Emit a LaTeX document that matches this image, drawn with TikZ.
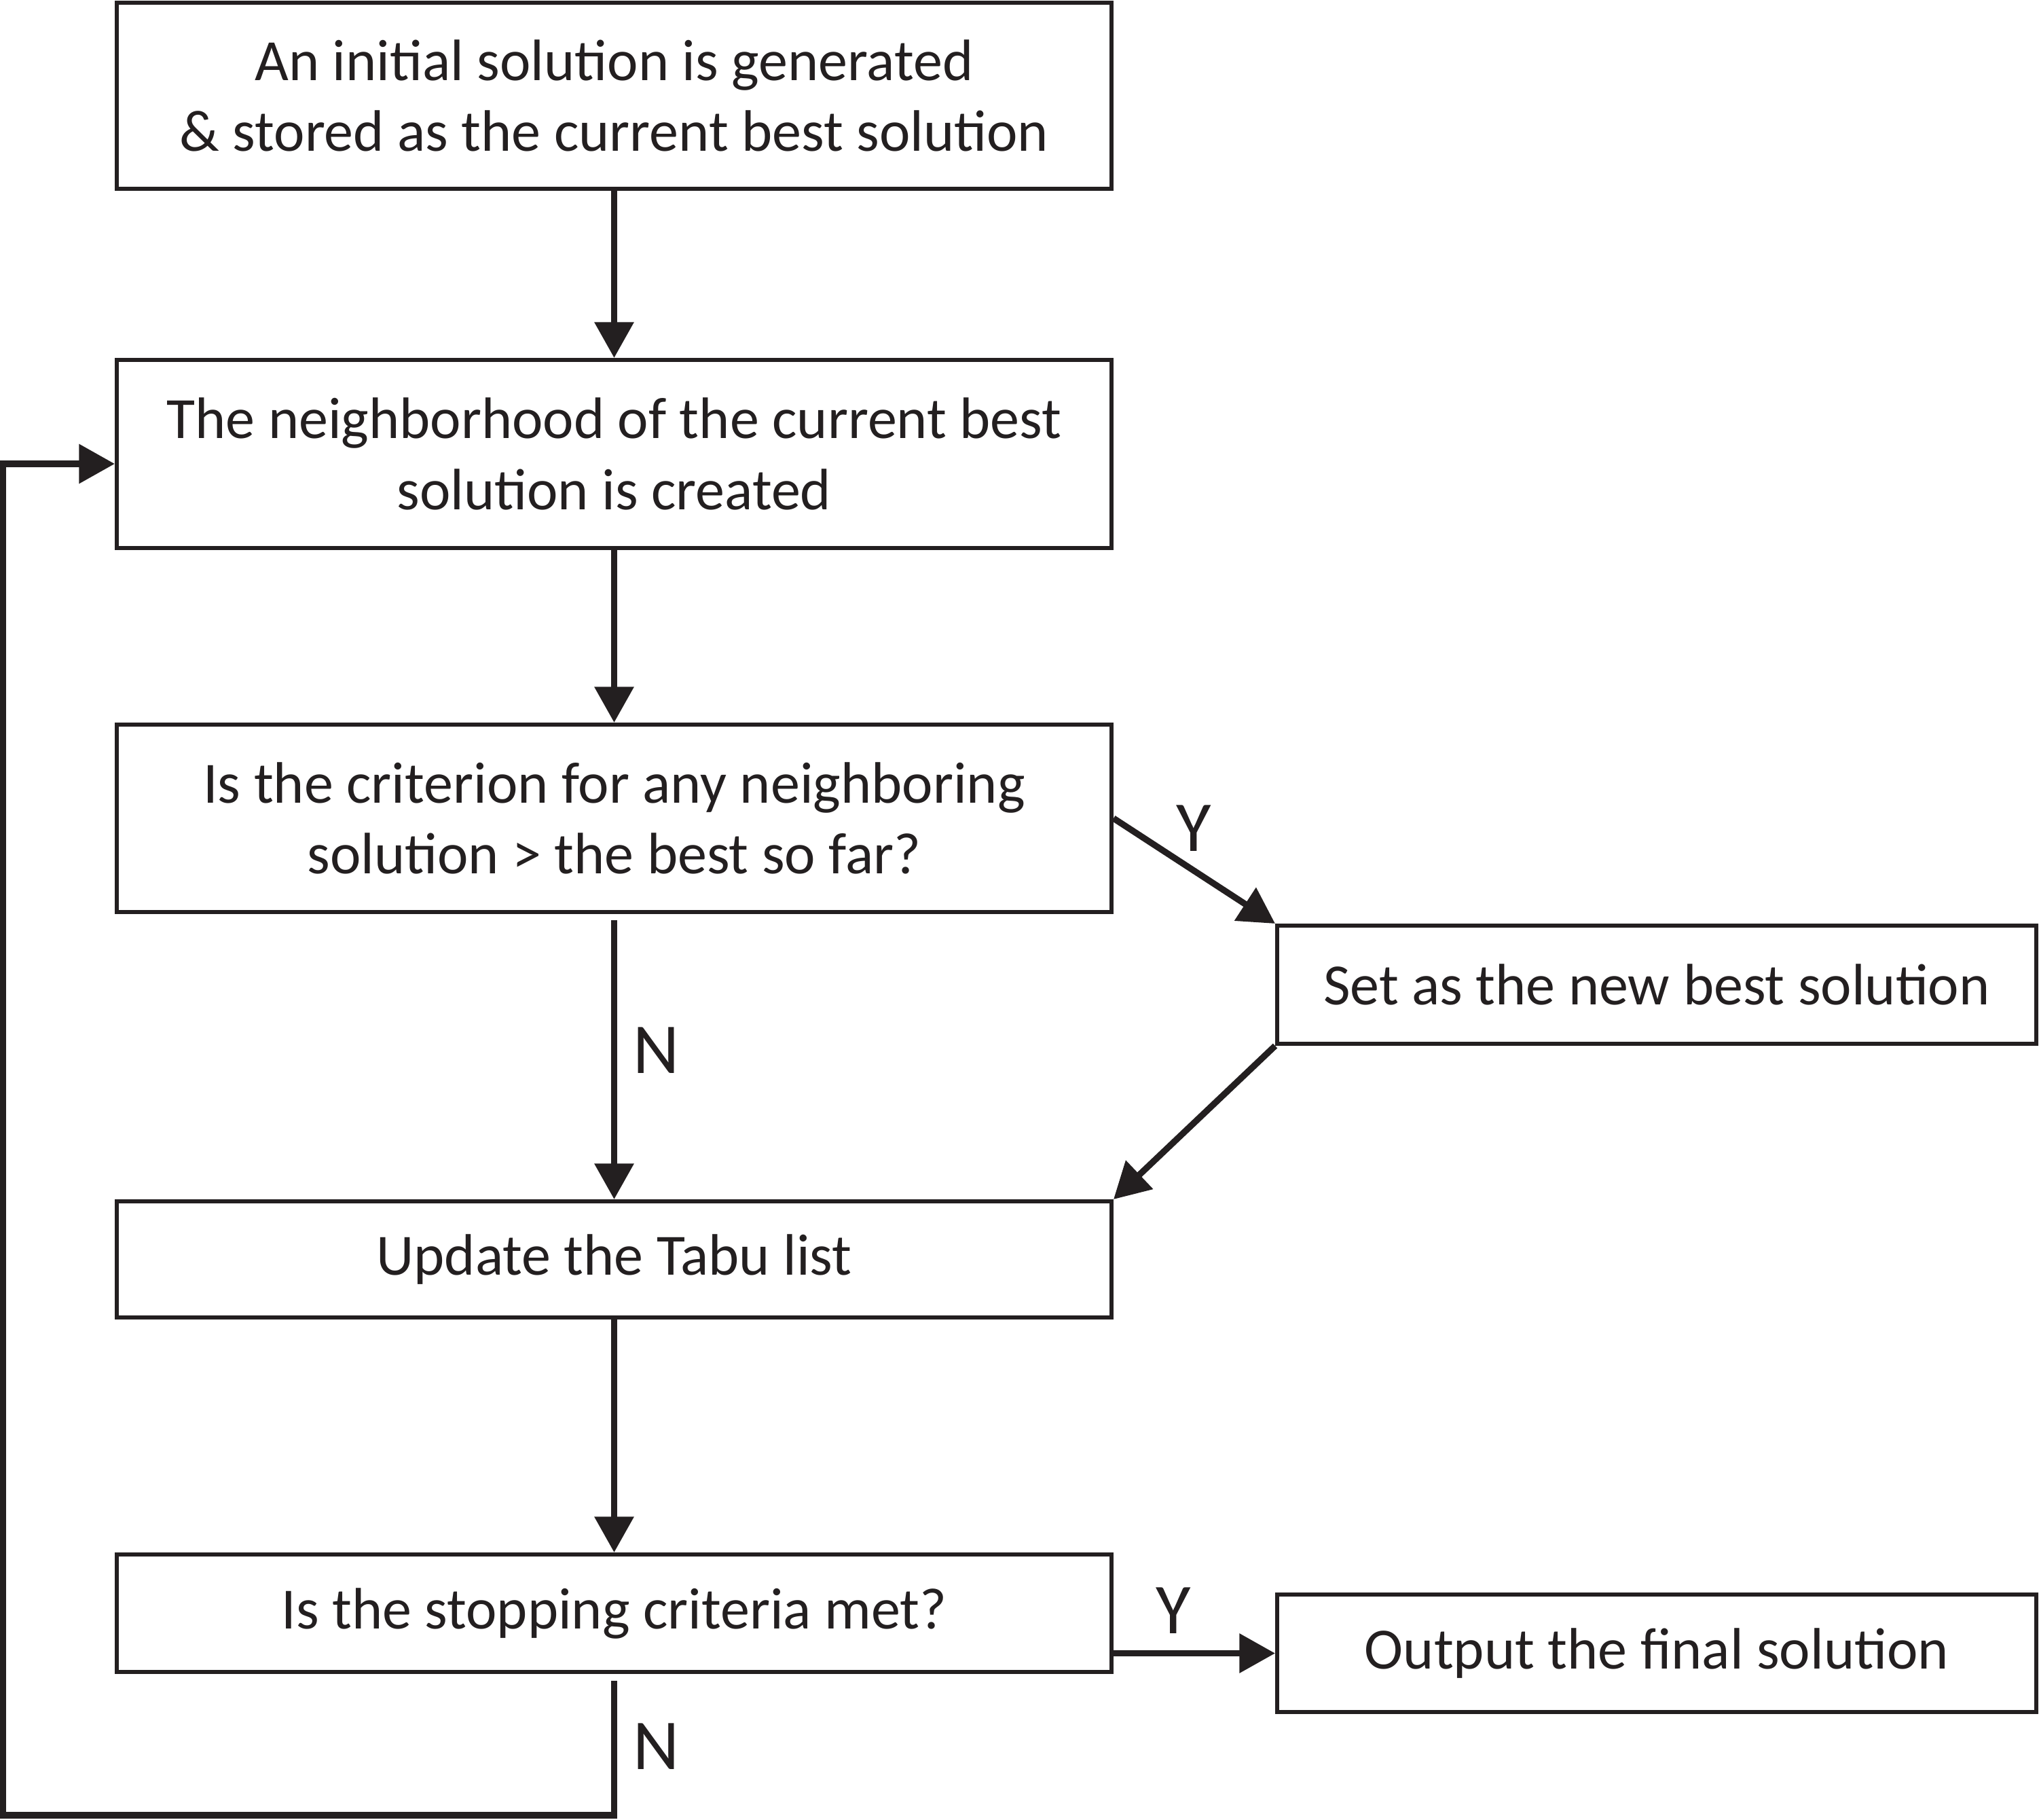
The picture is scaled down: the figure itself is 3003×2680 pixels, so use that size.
\documentclass[tikz,border=0pt]{standalone}
\usepackage{fontspec}
\setmainfont{Carlito}
\usetikzlibrary{arrows.meta}
\definecolor{ink}{HTML}{231F20}
\tikzset{
  box/.style={draw=ink,line width=1.7pt,minimum width=146.5mm,align=center,
    inner sep=0pt,font=\fontsize{24.5}{29.8}\selectfont,text=ink},
  rbox/.style={box,minimum width=111.8mm,minimum height=17.4mm},
  flow/.style={draw=ink,line width=2.65pt,-{Triangle[length=15pt,width=16pt]}},
  yn/.style={font=\fontsize{30}{36}\selectfont,text=ink}
}

\begin{document}
\begin{tikzpicture}[x=0.1mm,y=-0.1mm]
    \useasboundingbox (0,0) rectangle (3003,2680);
    \node[box,minimum height=27.4mm] (init) at (904.5,141) {An initial solution is generated\\ \& stored as the current best solution};
    \node[box,minimum height=27.7mm] (nbhd) at (904.5,668.5) {The neighborhood of the current best\\ solution is created};
    \node[box,minimum height=27.6mm] (test) at (904.5,1205) {Is the criterion for any neighboring\\ solution > the best so far?};
    \node[rbox] (best) at (2440,1450) {Set as the new best solution};
    \node[box,minimum height=17.1mm] (update) at (904.5,1854.5) {Update the Tabu list};
    \node[box,minimum height=17.3mm] (stop) at (904.5,2375.5) {Is the stopping criteria met?};
    \node[rbox,minimum height=17.3mm] (output) at (2440,2434.5) {Output the final solution};
    \coordinate (loop) at (4.5,2673);

    \draw[flow] (init) -- (nbhd);
    \draw[flow] (nbhd) -- (test);
    \draw[flow,shorten <=0.9mm] (test) -- (update);
    \draw[flow] (test.east) -- (best.north west);
    \draw[flow] (best.south west) -- (update.north east);
    \draw[flow] (update) -- (stop);
    \draw[flow] (output.west -| stop.east) -- (output.west);
    \draw[flow,shorten <=1mm] (stop.south) -- (stop.south |- loop) -- (loop) |- ([yshift=-1.45mm]nbhd.west);

    \node[yn] (n1) at (967,1547) {N};
    \node[yn] (y1) at (1758,1220) {Y};
    \node[yn] (y2) at (1728,2372) {Y};
    \node[yn] (n2) at (967,2572) {N};
  \end{tikzpicture}
\end{document}
